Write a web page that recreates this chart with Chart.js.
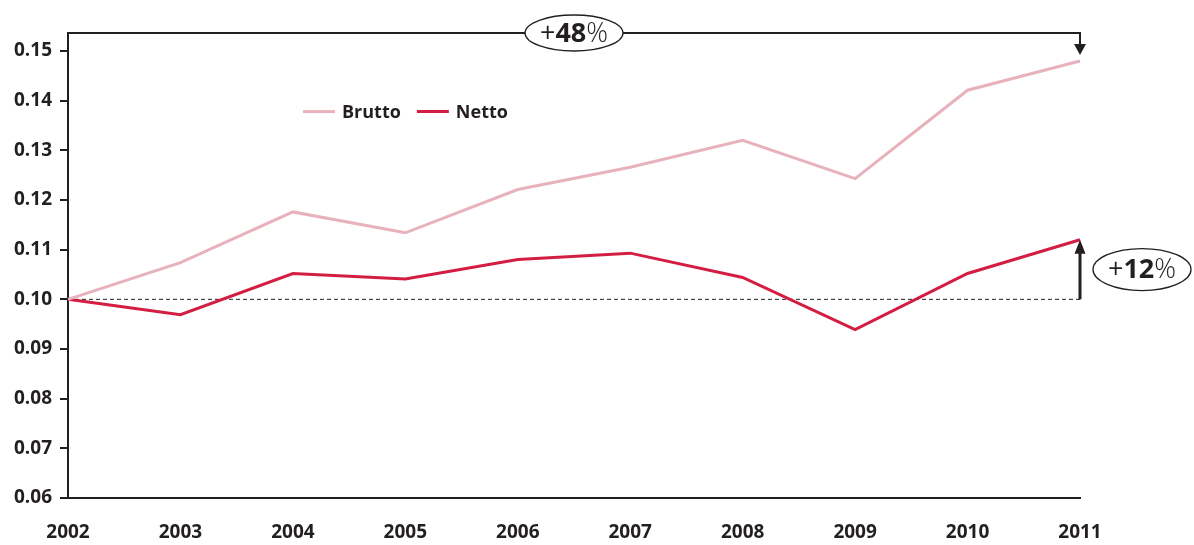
<!DOCTYPE html>
<html>
<head>
<meta charset="utf-8">
<script src="https://cdn.jsdelivr.net/npm/chart.js@4/dist/chart.umd.min.js"></script>
<style>
  html, body { margin: 0; padding: 0; background: #fff; }
  #wrap { width: 1194px; height: 545px; position: relative; }
</style>
</head>
<body>
<div id="wrap"><canvas id="c" width="1194" height="545"></canvas></div>
<script>
// Years on the x axis
const years = ['2002', '2003', '2004', '2005', '2006', '2007', '2008', '2009', '2010', '2011'];
// Gross and net values per year
const brutto = [0.100, 0.1074, 0.1176, 0.1134, 0.1221, 0.1266, 0.1320, 0.1243, 0.1421, 0.1480];
const netto  = [0.100, 0.0969, 0.1052, 0.1041, 0.1080, 0.1093, 0.1044, 0.0939, 0.1052, 0.1120];
// Y axis range and step
const yMin = 0.06;
const yMax = 0.15;
const yStep = 0.01;
// Reference level and change labels
const baseLevel = 0.10;
const bruttoChange = '48';
const nettoChange = '12';

const INK = '#231f20';
const FONT = "'Open Sans', sans-serif";

function drawArrowHead(ctx, x, tipY, dir, w, h) {
  ctx.beginPath();
  ctx.moveTo(x, tipY);
  ctx.lineTo(x - w / 2, tipY - dir * h);
  ctx.lineTo(x + w / 2, tipY - dir * h);
  ctx.closePath();
  ctx.fill();
}

function drawBadge(ctx, cx, cy, rx, ry, num) {
  ctx.save();
  ctx.fillStyle = '#fff';
  ctx.strokeStyle = INK;
  ctx.lineWidth = 1.3;
  ctx.beginPath();
  ctx.ellipse(cx, cy, rx, ry, 0, 0, Math.PI * 2);
  ctx.fill();
  ctx.stroke();
  ctx.fillStyle = INK;
  ctx.textBaseline = 'middle';
  const parts = [
    { t: '+', f: '400 27px ' + FONT },
    { t: num, f: '700 27px ' + FONT },
    { t: '%', f: '300 27px ' + FONT }
  ];
  let total = 0;
  parts.forEach(p => { ctx.font = p.f; p.w = ctx.measureText(p.t).width; total += p.w; });
  let x = cx - total / 2;
  ctx.textAlign = 'left';
  parts.forEach(p => { ctx.font = p.f; ctx.fillText(p.t, x, cy + 1); x += p.w; });
  ctx.restore();
}

const annotations = {
  id: 'annotations',
  beforeDatasetsDraw(chart) {
    const { ctx, chartArea, scales } = chart;
    const y0 = scales.y.getPixelForValue(baseLevel);
    ctx.save();
    ctx.strokeStyle = INK;
    ctx.lineWidth = 1;
    ctx.setLineDash([4, 3]);
    ctx.beginPath();
    ctx.moveTo(chartArea.left, y0);
    ctx.lineTo(chartArea.right, y0);
    ctx.stroke();
    ctx.restore();
  },
  afterDatasetsDraw(chart) {
    const { ctx, chartArea, scales } = chart;
    const last = years.length - 1;
    const xr = scales.x.getPixelForValue(last);
    const yTop = chartArea.top - 18;
    const yB = scales.y.getPixelForValue(brutto[last]);
    const yN = scales.y.getPixelForValue(netto[last]);
    const y0 = scales.y.getPixelForValue(baseLevel);

    ctx.save();
    ctx.strokeStyle = INK;
    ctx.fillStyle = INK;
    // frame line above the plot, running into the gross arrow
    ctx.lineWidth = 2;
    ctx.beginPath();
    ctx.moveTo(chartArea.left, chartArea.top);
    ctx.lineTo(chartArea.left, yTop);
    ctx.lineTo(xr, yTop);
    ctx.lineTo(xr, yB - 12);
    ctx.stroke();
    drawArrowHead(ctx, xr, yB - 6, 1, 12, 11);

    // net change arrow
    ctx.lineWidth = 3;
    ctx.beginPath();
    ctx.moveTo(xr, y0);
    ctx.lineTo(xr, yN + 12);
    ctx.stroke();
    drawArrowHead(ctx, xr, yN, -1, 11, 14);
    ctx.restore();

    drawBadge(ctx, (chartArea.left + chartArea.right) / 2, yTop, 49, 18, bruttoChange);
    drawBadge(ctx, xr + 62, (yN + y0) / 2, 49, 21, nettoChange);

    // legend
    ctx.save();
    const ly = scales.y.getPixelForValue(0.1378);
    let lx = chartArea.left + 235;
    ctx.font = '700 18px ' + FONT;
    ctx.textBaseline = 'middle';
    ctx.textAlign = 'left';
    chart.data.datasets.forEach(ds => {
      ctx.strokeStyle = ds.borderColor;
      ctx.lineWidth = 3;
      ctx.beginPath();
      ctx.moveTo(lx, ly);
      ctx.lineTo(lx + 32, ly);
      ctx.stroke();
      ctx.fillStyle = INK;
      ctx.fillText(ds.label, lx + 39, ly + 1);
      lx += 39 + ctx.measureText(ds.label).width + 16;
    });
    ctx.restore();
  }
};

new Chart(document.getElementById('c'), {
  type: 'line',
  data: {
    labels: years,
    datasets: [
      { label: 'Brutto', data: brutto, borderColor: '#e8b2bc', borderWidth: 3, pointRadius: 0, tension: 0 },
      { label: 'Netto', data: netto, borderColor: '#d41d42', borderWidth: 3, pointRadius: 0, tension: 0 }
    ]
  },
  options: {
    responsive: false,
    animation: false,
    layout: { padding: { left: 0, top: 51, right: 114, bottom: 0 } },
    plugins: { legend: { display: false }, tooltip: { enabled: false } },
    scales: {
      x: {
        offset: false,
        grid: { display: false },
        border: { display: true, color: INK, width: 2 },
        ticks: { color: INK, font: { family: FONT, size: 19, weight: '700' }, padding: 15, maxRotation: 0 },
        afterFit(s) { s.height = 47; }
      },
      y: {
        min: yMin,
        max: yMax,
        grid: { drawOnChartArea: false, drawTicks: true, tickLength: 8, color: INK, lineWidth: 2 },
        border: { display: true, color: INK, width: 2 },
        ticks: {
          stepSize: yStep,
          color: INK,
          padding: 8,
          font: { family: FONT, size: 19, weight: '700' },
          callback: v => v.toFixed(2)
        },
        afterFit(s) { s.width = 68; }
      }
    }
  },
  plugins: [annotations]
});
</script>
</body>
</html>
